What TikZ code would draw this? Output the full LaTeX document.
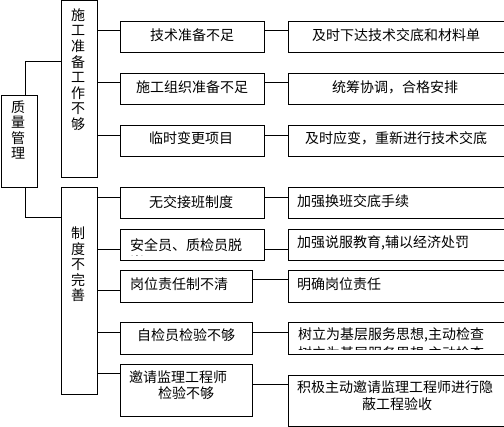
\documentclass[tikz,border=0pt]{standalone}
\usepackage{fontspec}
\newfontfamily\cjk{Noto Sans CJK SC}
\tikzset{
 box/.style={draw, line width=1pt, inner sep=0pt, anchor=north west},
 lbl/.style={font=\cjk\fontsize{14}{16.5}\selectfont, inner sep=0pt},
 vlbl/.style={font=\cjk\fontsize{14}{15.6}\selectfont, inner sep=0pt, align=center},
 conn/.style={line width=1pt},
}
\begin{document}
\begin{tikzpicture}[x=1pt,y=-1pt]
\useasboundingbox (0,0) rectangle (504,427);
\fill[white] (0,0) rectangle (504,427);
\clip (0,0) rectangle (504,427);

% left column
\node[box, minimum width=36pt, minimum height=92pt] (q) at (0.5,95) {};
\node[box, minimum width=36pt, minimum height=177pt] (A) at (60.5,0.5) {};
\node[box, minimum width=36pt, minimum height=207pt] (B) at (60.5,187) {};
\node[vlbl] (tq) at (18,130) {质\\量\\管\\理};
\node[vlbl] (tA) at (78,69.5) {施\\工\\准\\备\\工\\作\\不\\够};
\node[vlbl] (tB) at (78,264.5) {制\\度\\不\\完\\善};

% middle column
\node[box, minimum width=144pt, minimum height=31pt] (b1) at (120,21) {};
\node[box, minimum width=144pt, minimum height=31pt] (b2) at (120,73) {};
\node[box, minimum width=144pt, minimum height=31pt] (b3) at (120,125) {};
\node[box, minimum width=144pt, minimum height=31pt] (b4) at (120,187) {};
\node[box, minimum width=144pt, minimum height=31pt] (b5) at (120,229) {};
\node[box, minimum width=132pt, minimum height=32pt] (b6) at (120,270) {};
\node[box, minimum width=132pt, minimum height=32pt] (b7) at (120,322) {};
\node[box, minimum width=132pt, minimum height=52pt] (b8) at (120,364) {};

% right column (runs past the right edge)
\node[box, minimum width=230pt, minimum height=31pt] (r1) at (288,21) {};
\node[box, minimum width=230pt, minimum height=31pt] (r2) at (288,73) {};
\node[box, minimum width=230pt, minimum height=31pt] (r3) at (288,125) {};
\node[box, minimum width=230pt, minimum height=31pt] (r4) at (288,187) {};
\node[box, minimum width=230pt, minimum height=31pt] (r5) at (288,229) {};
\node[box, minimum width=230pt, minimum height=32pt] (r6) at (288,270) {};
\node[box, minimum width=230pt, minimum height=32pt] (r7) at (288,322) {};
\node[box, minimum width=230pt, minimum height=51pt] (r8) at (288,375) {};

% texts, middle column
\node[lbl] (t1) at (192,35) {技术准备不足};
\node[lbl] (t2) at (192,87) {施工组织准备不足};
\node[lbl] (t3) at (191,138) {临时变更项目};
\node[lbl] (t4) at (191,202) {无交接班制度};
\node[lbl, anchor=west] (t5) at (130,245) {安全员、质检员脱};
\begin{scope}
\clip (121,230) rectangle (263,256);
\node[lbl, anchor=west] (t5b) at (130,262) {岗};
\end{scope}
\node[lbl, anchor=west] (t6) at (130,284) {岗位责任制不清};
\node[lbl] (t7) at (186,335) {自检员检验不够};
\node[lbl, anchor=west] (t8a) at (129,377.5) {邀请监理工程师};
\node[lbl, anchor=west] (t8b) at (158,393.5) {检验不够};

% texts, right column
\node[lbl] (u1) at (396,35) {及时下达技术交底和材料单};
\node[lbl] (u2) at (395,87) {统筹协调，合格安排};
\node[lbl] (u3) at (396,138) {及时应变，重新进行技术交底};
\node[lbl, anchor=west] (u4) at (297,201) {加强换班交底手续};
\node[lbl, anchor=west] (u5) at (297,243) {加强说服教育,辅以经济处罚};
\node[lbl, anchor=west] (u6) at (297,284) {明确岗位责任};
\node[lbl, anchor=west] (u7) at (298,335) {树立为基层服务思想,主动检查};
\begin{scope}
\clip (289,323) rectangle (504,349.5);
\node[lbl, anchor=west] (u7b) at (298,353.5) {树立为基层服务思想,主动检查};
\end{scope}
\node[lbl] (u8a) at (395,387) {积极主动邀请监理工程师进行隐};
\node[lbl] (u8b) at (397,404) {蔽工程验收};

% connectors
\coordinate (cq1) at (25,62);
\coordinate (cq2) at (25,218);
\draw[conn] (q.north -| cq1) |- (A.west |- cq1);
\draw[conn] (q.south -| cq2) |- (B.west |- cq2);

\coordinate (y1) at (0,31);
\coordinate (y2) at (0,83);
\coordinate (y3) at (0,135.5);
\draw[conn] (A.east |- y1) -- (b1.west |- y1);
\draw[conn] (A.east |- y2) -- (b2.west |- y2);
\draw[conn] (A.east |- y3) -- (b3.west |- y3);
\draw[conn] (b1.east |- y1) -- (r1.west |- y1);
\draw[conn] (b2.east |- y2) -- (r2.west |- y2);
\draw[conn] (b3.east |- y3) -- (r3.west |- y3);

\coordinate (y4) at (0,198);
\coordinate (y5) at (0,250);
\coordinate (y6) at (0,290.5);
\coordinate (y7) at (0,333);
\coordinate (y8) at (0,374);
\draw[conn] (B.east |- y4) -- (b4.west |- y4);
\draw[conn] (B.east |- y5) -- (b5.west |- y5);
\draw[conn] (B.east |- y6) -- (b6.west |- y6);
\draw[conn] (B.east |- y7) -- (b7.west |- y7);
\draw[conn] (B.east |- y8) -- (b8.west |- y8);

\coordinate (z6) at (0,280);
\coordinate (z8) at (0,385);
\draw[conn] (b4.east |- y4) -- (r4.west |- y4);
\draw[conn] (b5.east |- y5) -- (r5.west |- y5);
\draw[conn] (b6.east |- z6) -- (r6.west |- z6);
\draw[conn] (b7.east |- y7) -- (r7.west |- y7);
\draw[conn] (b8.east |- z8) -- (r8.west |- z8);
\end{tikzpicture}
\end{document}
